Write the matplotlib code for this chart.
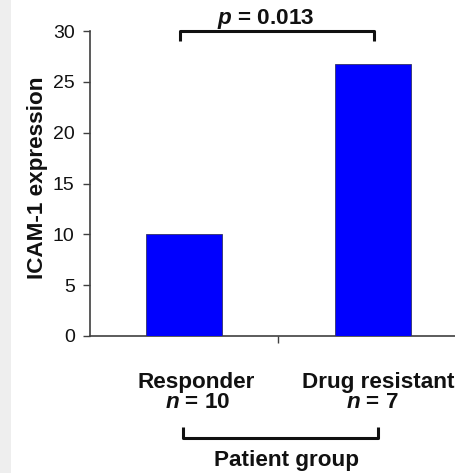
import matplotlib
matplotlib.use("Agg")
import matplotlib.pyplot as plt
import matplotlib.transforms as mtransforms
from matplotlib.patches import Rectangle

plt.rcParams['font.family'] = ['Liberation Sans', 'DejaVu Sans']
plt.rcParams['mathtext.fontset'] = 'custom'
plt.rcParams['mathtext.it'] = 'Liberation Sans:italic:bold'
plt.rcParams['mathtext.rm'] = 'Liberation Sans:bold'
plt.rcParams['mathtext.bf'] = 'Liberation Sans:bold'

# data
groups = ['Responder', 'Drug resistant']
group_n = [10, 7]
icam1 = [10.0, 26.8]
p_value = '0.013'

W, H = 456, 473
FS = 16.2
fig = plt.figure(figsize=(W / 100, H / 100), dpi=100)
fig.patch.set_facecolor('white')
fig.patches.append(Rectangle((0, 0), 11 / W, 1, transform=fig.transFigure,
                             facecolor='#eeeeee', edgecolor='none', zorder=0))

# axes placed in pixel terms, right edge runs off the figure like the original
ax = fig.add_axes([90 / W, (H - 336) / H, (467 - 90) / W, 305 / H])
xpos = list(range(len(groups)))
ax.bar(xpos, icam1, width=0.404, color='#0000ff', edgecolor='#333366', linewidth=0.6, zorder=3)

ax.set_xlim(-0.5, 1.5)
ax.set_ylim(0, 30)
ax.set_yticks([0, 5, 10, 15, 20, 25, 30])
ax.set_xticks([0.5])
ax.set_xticklabels([])
ax.tick_params(axis='y', direction='out', length=5, width=1, colors='#404040',
               labelsize=14, labelcolor='#111111', pad=6)
ax.tick_params(axis='x', direction='out', length=5, width=1, colors='#404040')
for s in ['top', 'right']:
    ax.spines[s].set_visible(False)
for s in ['left', 'bottom']:
    ax.spines[s].set_color('#404040')
    ax.spines[s].set_linewidth(1.2)

ax.set_ylabel('ICAM-1 expression', fontsize=FS, fontweight='bold', color='#111111')
ax.yaxis.set_label_coords(-0.112, 0.52)

# significance bracket on top
ax.plot([-0.02, -0.02, 1.005, 1.005], [29.0, 30.0, 30.0, 29.0], color='#111111',
        lw=2.2, clip_on=False, solid_capstyle='butt')
fig.text(266 / W, 1 - 19 / H, r'$p$ = ' + p_value, ha='center', va='center',
         fontsize=FS, fontweight='bold', color='#111111')

# group labels
blend = mtransforms.blended_transform_factory(ax.transData, fig.transFigure)
label_dx = [0.065, 0.03]
n_dx = [0.07, 0.0]
for i, g in enumerate(groups):
    ax.text(xpos[i] + label_dx[i], 1 - 382 / H, g, transform=blend, ha='center', va='center',
            fontsize=FS, fontweight='bold', color='#111111')
    ax.text(xpos[i] + n_dx[i], 1 - 402 / H, r'$n$ = %d' % group_n[i], transform=blend,
            ha='center', va='center', fontsize=FS, fontweight='bold', color='#111111')

# bottom bracket and axis title
yb_top = 1 - 427 / H
yb = 1 - 438 / H
ax.plot([-0.005, -0.005, 1.03, 1.03], [yb_top, yb, yb, yb_top], color='#111111', lw=2.2,
        transform=blend, clip_on=False, solid_capstyle='butt')
fig.text(287 / W, 2 / H, 'Patient group', ha='center', va='bottom',
         fontsize=FS, fontweight='bold', color='#111111')

fig.savefig('out.png', dpi=100)
